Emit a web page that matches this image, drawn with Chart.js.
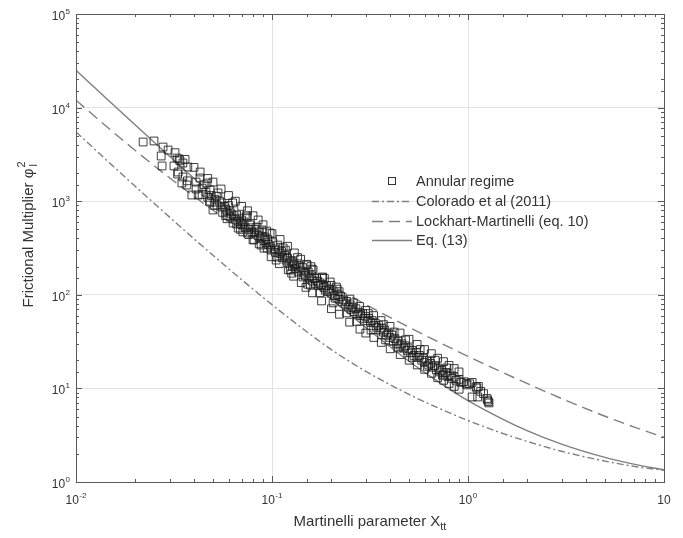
<!DOCTYPE html>
<html>
<head>
<meta charset="utf-8">
<script src="https://cdn.jsdelivr.net/npm/chart.js@4.4.1/dist/chart.umd.min.js"></script>
<style>
  html, body { margin: 0; padding: 0; background: #fff; }
  #wrap { width: 683px; height: 538px; position: relative; }
</style>
</head>
<body>
<div id="wrap"><canvas id="phiChart"></canvas></div>
<script>
// measured points, Annular regime [Xtt, phi_l^2]
const annularPoints = [
  [0.022,4290],[0.025,4400],[0.0278,3790],[0.0295,3520],[0.0272,3040],[0.0275,2380],[0.0316,2380],[0.0336,2820],
  [0.0328,2890],[0.0339,2700],[0.0351,2560],[0.0372,2320],[0.0332,2050],[0.0351,1815],[0.0347,1565],[0.0368,1490],
  [0.0429,1770],[0.0466,1565],[0.039,1165],[0.042,1165],[0.0483,1318],[0.053,1225],[0.0483,980],[0.0524,910],
  [0.0556,867],[0.05,806],[0.059,767],[0.0611,678],[0.066,712],[0.0633,585],[0.070,630],[0.0748,678],
  [0.0672,517],[0.0773,557],[0.0838,530],[0.0748,457],[0.0888,493],[0.080,385],[0.092,414],[0.0978,457],
  [0.0945,316],[0.107,340],[0.114,316],[0.106,253],[0.119,253],[0.128,224],[0.124,184],[0.139,198],
  [0.151,208],[0.144,155],[0.162,184],[0.169,151],[0.181,155],[0.176,134],[0.198,137],[0.213,121],[0.157,127],
  [0.041,1600],[0.044,1380],[0.045,1500],[0.046,1250],[0.047,1100],[0.049,1150],[0.051,1050],[0.052,1130],
  [0.054,1000],[0.055,960],[0.057,880],[0.058,820],[0.06,900],[0.061,790],[0.062,730],[0.064,700],
  [0.065,640],[0.067,610],[0.068,660],[0.069,580],[0.071,560],[0.072,600],[0.073,520],[0.076,500],
  [0.078,520],[0.079,470],[0.081,455],[0.082,500],[0.085,430],[0.086,470],[0.087,400],[0.089,420],
  [0.091,380],[0.093,360],[0.095,390],[0.096,345],[0.098,330],[0.099,300],
  [0.101,360],[0.103,310],[0.104,285],[0.108,300],[0.11,275],[0.112,290],[0.113,250],[0.116,265],
  [0.118,235],[0.12,245],[0.122,215],[0.125,230],[0.127,200],[0.13,210],[0.132,190],[0.134,215],
  [0.136,175],[0.141,180],[0.143,195],[0.146,170],[0.148,160],[0.153,175],[0.155,150],[0.159,160],
  [0.161,140],[0.165,150],[0.167,132],[0.171,140],[0.173,125],[0.178,128],[0.184,120],[0.187,112],
  [0.19,125],[0.193,108],[0.196,115],[0.2,104],
  [0.205,110],[0.208,98],[0.21,92],[0.216,100],[0.22,90],[0.224,96],[0.228,84],[0.232,88],
  [0.236,80],[0.24,85],[0.245,74],[0.25,78],[0.253,70],[0.258,73],[0.262,66],[0.268,71],
  [0.272,62],[0.278,65],[0.283,60],[0.29,63],[0.295,56],[0.3,59],[0.306,53],[0.312,56],
  [0.318,51],[0.324,53],[0.33,47],[0.336,50],[0.342,45],[0.35,47],[0.356,42],[0.362,44],
  [0.37,40],[0.376,42],[0.384,37],[0.392,39],[0.4,35],[0.408,37],[0.416,32],[0.424,34],
  [0.432,30],[0.44,32],[0.45,29],[0.46,30],[0.47,27],[0.48,28.5],[0.49,25.5],[0.5,26.5],
  [0.51,24],[0.52,25.5],[0.53,22.5],[0.545,24],[0.555,21.5],[0.565,22.5],[0.58,20],[0.59,21],
  [0.6,19],[0.615,20],[0.63,17.8],[0.645,18.5],[0.66,16.8],[0.675,17.5],[0.69,15.8],[0.705,16.5],
  [0.72,15],[0.735,15.6],[0.75,14.2],[0.77,14.8],[0.79,13.4],[0.81,13.9],[0.83,12.8],[0.85,13.2],
  [0.87,12.2],[0.9,12.5],[0.92,11.6],[0.95,11.8],[0.98,11.3],[1.02,11.2],[1.05,11.6],[1.1,10.4],
  [1.13,10.5],[1.16,9.3],[1.2,8.8],[1.25,7.8],[1.27,7.2],
  [0.99,10.9],[1.11,10.1],[1.05,8.1],[1.12,8.1],[1.26,7.5],[1.28,7.0],
  // upper and lower edge of the band
  [0.032,3300],[0.033,1950],[0.036,2800],[0.037,1650],[0.040,2300],[0.041,1350],[0.043,2050],[0.044,1180],
  [0.047,1750],[0.048,1000],[0.050,1600],[0.051,900],[0.055,1350],[0.056,760],[0.060,1150],[0.059,650],
  [0.065,1000],[0.066,570],[0.070,880],[0.069,500],[0.075,790],[0.076,440],[0.080,700],[0.081,390],
  [0.085,630],[0.086,350],[0.090,560],[0.091,315],[0.100,450],[0.099,255],[0.110,390],[0.109,215],
  [0.120,330],[0.121,185],[0.130,280],[0.129,158],[0.140,240],[0.141,135],[0.150,212],[0.149,120],
  [0.160,188],[0.161,105],[0.180,152],[0.179,86],[0.200,126],[0.201,71],[0.220,108],[0.221,62],
  [0.250,90],[0.249,51],[0.280,75],[0.281,43],[0.300,68],[0.301,39],[0.330,60],[0.331,35],
  [0.360,53],[0.361,31],[0.400,46],[0.401,26.5],[0.450,39],[0.451,23],[0.500,33.5],[0.501,20],
  [0.550,29.5],[0.551,17.8],[0.600,26],[0.601,16],[0.650,23.5],[0.651,14.5],[0.700,21],[0.701,13],
  [0.750,19.3],[0.751,12.2],[0.800,17.6],[0.801,11.3],[0.850,16.3],[0.851,10.5],[0.900,15],[0.901,9.8],
  [0.063,960],[0.074,700],[0.094,480],[0.117,300],[0.135,250],[0.158,200],[0.185,150],[0.215,115],
  [0.26,82],[0.31,63],[0.37,48],[0.42,40],[0.48,33],[0.57,26],[0.68,20],[0.78,16.5],
  [0.058,700],[0.071,470],[0.088,340],[0.105,235],[0.126,170],[0.152,130],[0.175,105],[0.205,82],
  [0.24,64],[0.27,52],[0.32,42],[0.38,33],[0.44,27],[0.52,21.5],[0.62,17.2],[0.74,13.8]
];

// correlation curves, sampled at curveX
const curveX     = [0.01, 0.015, 0.02, 0.03, 0.05, 0.07, 0.1, 0.15, 0.2, 0.3, 0.5, 0.7, 1, 1.5, 2, 3, 5, 7, 10];
const coloradoY  = [5500, 2510, 1450, 676, 264, 145, 78.5, 40.5, 26.1, 15.3, 8.63, 6.21, 4.54, 3.31, 2.72, 2.13, 1.67, 1.47, 1.33];
const lockhartY  = [12000, 5780, 3500, 1780, 800, 491, 301, 178, 126, 79, 45, 31.6, 22, 14.8, 11.3, 7.8, 5.04, 3.88, 3.01];
const eq13Y      = [25000, 11400, 6550, 3020, 1150, 612, 316, 151, 90.5, 45, 19.5, 11.9, 7.4, 4.7, 3.54, 2.54, 1.83, 1.55, 1.35];

const xTickValues = [0.01, 0.1, 1, 10];
const xTickExps   = ['-2', '-1', '0', ''];
const yTickValues = [1, 10, 100, 1000, 10000, 100000];
const yTickExps   = ['0', '1', '2', '3', '4', '5'];
const legendLabels = ['Annular regime', 'Colorado et al (2011)', 'Lockhart-Martinelli (eq. 10)', 'Eq. (13)'];

const FONT = '"Liberation Sans", Arial, Helvetica, sans-serif';
const TEXT = '#333';
const LINE = '#7f7f7f';

function toXY(xs, ys) {
  return xs.map((v, i) => ({ x: v, y: ys[i] }));
}
function isMajor(v) {
  const l = Math.log10(v);
  return Math.abs(l - Math.round(l)) < 1e-6;
}

function drawPower(ctx, base, exp, x, y, align) {
  ctx.font = '12px ' + FONT;
  const wb = ctx.measureText(base).width;
  ctx.font = '8px ' + FONT;
  const we = exp ? ctx.measureText(exp).width + 0.5 : 0;
  const left = align === 'center' ? x - (wb + we) / 2 : x - wb - we;
  ctx.textAlign = 'left';
  ctx.textBaseline = 'alphabetic';
  ctx.font = '12px ' + FONT;
  ctx.fillText(base, left, y);
  if (exp) {
    ctx.font = '8px ' + FONT;
    ctx.fillText(exp, left + wb + 0.5, y - 6);
  }
}

// box, inner tick marks, tick labels, axis titles, legend
const matlabAxes = {
  id: 'matlabAxes',
  afterDraw(chart) {
    const { ctx, chartArea: a, scales: { x, y } } = chart;
    ctx.save();

    ctx.strokeStyle = '#5a5a5a';
    ctx.lineWidth = 1;
    ctx.beginPath();
    x.ticks.forEach(t => {
      const px = Math.round(x.getPixelForValue(t.value)) + 0.5;
      const len = isMajor(t.value) ? 6 : 3;
      ctx.moveTo(px, a.bottom); ctx.lineTo(px, a.bottom - len);
      ctx.moveTo(px, a.top); ctx.lineTo(px, a.top + len);
    });
    y.ticks.forEach(t => {
      const py = Math.round(y.getPixelForValue(t.value)) + 0.5;
      const len = isMajor(t.value) ? 6 : 3;
      ctx.moveTo(a.left, py); ctx.lineTo(a.left + len, py);
      ctx.moveTo(a.right, py); ctx.lineTo(a.right - len, py);
    });
    ctx.stroke();
    ctx.strokeRect(Math.round(a.left) + 0.5, Math.round(a.top) + 0.5,
                   Math.round(a.right - a.left), Math.round(a.bottom - a.top));

    ctx.fillStyle = TEXT;
    xTickValues.forEach((v, i) => {
      drawPower(ctx, '10', xTickExps[i], x.getPixelForValue(v), a.bottom + 22, 'center');
    });
    yTickValues.forEach((v, i) => {
      drawPower(ctx, '10', yTickExps[i], a.left - 6, y.getPixelForValue(v) + 6, 'right');
    });

    // x title
    ctx.font = '15px ' + FONT;
    const xt = 'Martinelli parameter X';
    const wxt = ctx.measureText(xt).width;
    ctx.font = '11px ' + FONT;
    const wsub = ctx.measureText('tt').width;
    const xl = (a.left + a.right) / 2 - (wxt + wsub) / 2;
    ctx.font = '15px ' + FONT;
    ctx.fillText(xt, xl, 526);
    ctx.font = '11px ' + FONT;
    ctx.fillText('tt', xl + wxt, 530);

    // y title
    ctx.save();
    ctx.translate(33, 235);
    ctx.rotate(-Math.PI / 2);
    ctx.font = '15px ' + FONT;
    const yt = 'Frictional Multiplier \u03c6';
    const wyt = ctx.measureText(yt).width;
    ctx.font = '11px ' + FONT;
    const wsc = ctx.measureText('2').width;
    const yl = -(wyt + wsc) / 2;
    ctx.font = '15px ' + FONT;
    ctx.fillText(yt, yl, 0);
    ctx.font = '11px ' + FONT;
    ctx.fillText('2', yl + wyt + 1, -8);
    ctx.fillText('l', yl + wyt + 2, 4);
    ctx.restore();

    // legend
    const lx = 372, tx = 416, rows = [181, 201, 221, 240];
    chart.data.datasets.forEach((ds, i) => {
      const ry = rows[i];
      ctx.strokeStyle = ds.borderColor;
      ctx.lineWidth = ds.borderWidth || 1;
      if (ds.showLine) {
        ctx.setLineDash(ds.borderDash || []);
        ctx.beginPath();
        ctx.moveTo(lx, ry + 0.5); ctx.lineTo(lx + 40, ry + 0.5);
        ctx.stroke();
        ctx.setLineDash([]);
      } else {
        ctx.strokeRect(lx + 16.5, ry - 3.5, 7, 7);
      }
      ctx.fillStyle = TEXT;
      ctx.font = '14.5px ' + FONT;
      ctx.textBaseline = 'middle';
      ctx.fillText(legendLabels[i], tx, ry + 1);
      ctx.textBaseline = 'alphabetic';
    });

    ctx.restore();
  }
};

new Chart('phiChart', {
  type: 'scatter',
  data: {
    datasets: [
      {
        label: legendLabels[0],
        data: annularPoints.map(p => ({ x: p[0], y: p[1] })),
        showLine: false,
        pointStyle: 'rect',
        pointRadius: 5.5,
        pointBorderWidth: 1,
        pointBorderColor: 'rgba(30,30,30,0.85)',
        pointBackgroundColor: 'rgba(0,0,0,0)',
        borderColor: '#333',
        borderWidth: 1
      },
      {
        label: legendLabels[1],
        data: toXY(curveX, coloradoY),
        showLine: true,
        borderColor: LINE,
        borderWidth: 1.4,
        borderDash: [7, 3, 2, 3],
        pointRadius: 0,
        cubicInterpolationMode: 'monotone'
      },
      {
        label: legendLabels[2],
        data: toXY(curveX, lockhartY),
        showLine: true,
        borderColor: LINE,
        borderWidth: 1.4,
        borderDash: [11, 6],
        pointRadius: 0,
        cubicInterpolationMode: 'monotone'
      },
      {
        label: legendLabels[3],
        data: toXY(curveX, eq13Y),
        showLine: true,
        borderColor: LINE,
        borderWidth: 1.4,
        pointRadius: 0,
        cubicInterpolationMode: 'monotone'
      }
    ]
  },
  options: {
    responsive: true,
    maintainAspectRatio: false,
    animation: false,
    layout: { padding: { top: 14, right: 19, left: 0, bottom: 0 } },
    plugins: {
      legend: { display: false },
      tooltip: { enabled: false }
    },
    scales: {
      x: {
        type: 'logarithmic',
        min: 0.01,
        max: 10,
        ticks: { display: false },
        border: { display: false },
        grid: {
          drawTicks: false,
          color: ctx => (ctx.tick && isMajor(ctx.tick.value)) ? '#e3e3e3' : 'rgba(0,0,0,0)'
        },
        afterFit: s => { s.height = 56; }
      },
      y: {
        type: 'logarithmic',
        min: 1,
        max: 100000,
        ticks: { display: false },
        border: { display: false },
        grid: {
          drawTicks: false,
          color: ctx => (ctx.tick && isMajor(ctx.tick.value)) ? '#e3e3e3' : 'rgba(0,0,0,0)'
        },
        afterFit: s => { s.width = 76; }
      }
    }
  },
  plugins: [matlabAxes]
});
</script>
</body>
</html>
